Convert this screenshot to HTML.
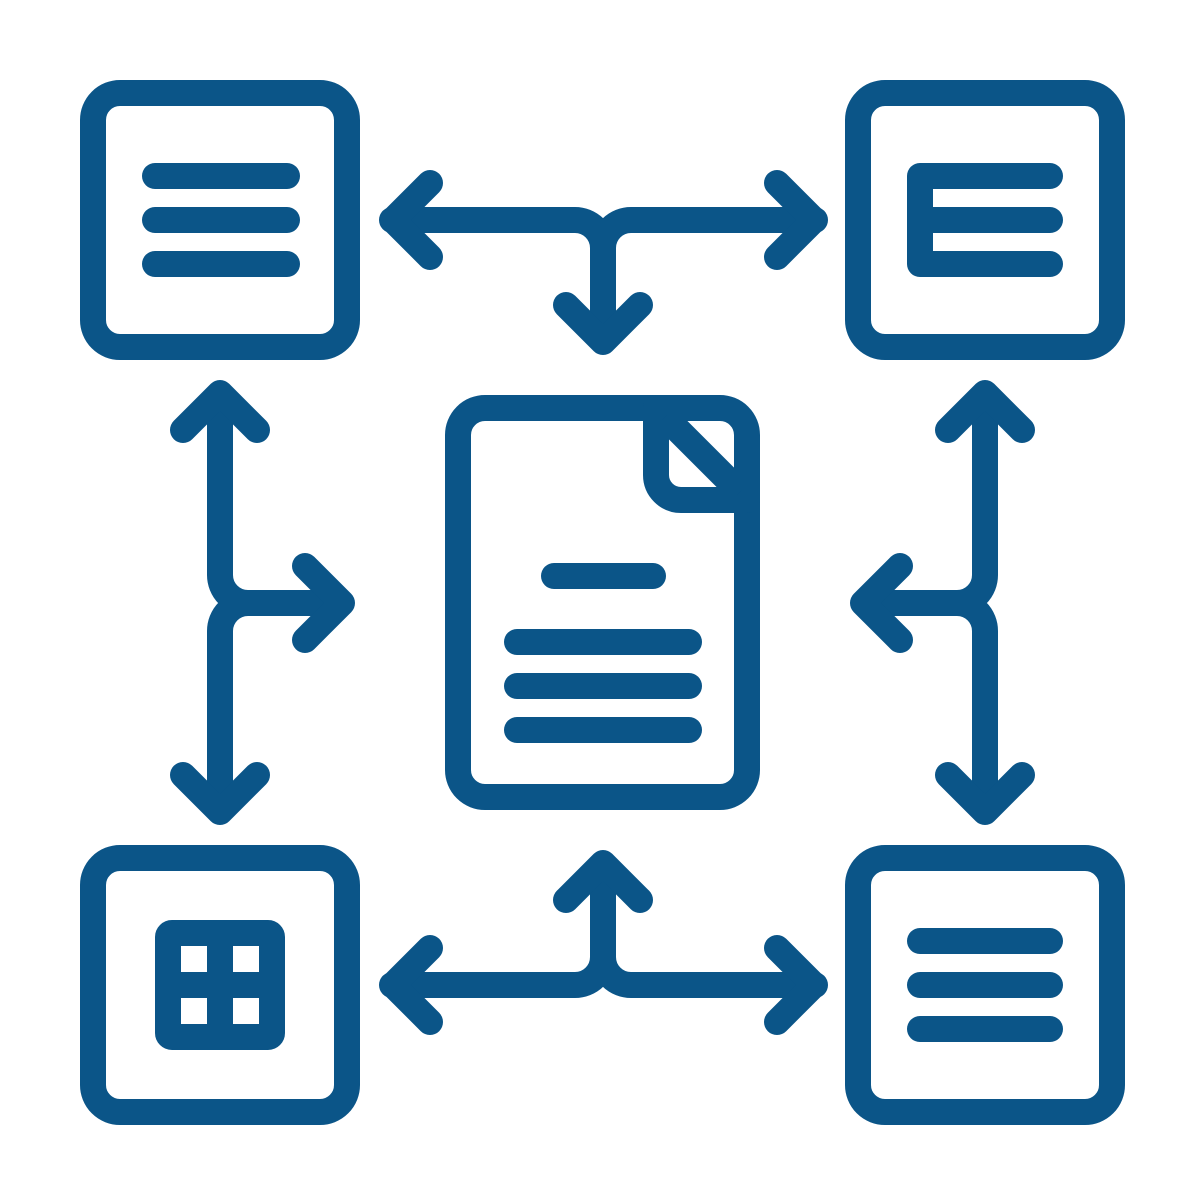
<!DOCTYPE html>
<html><head><style>html,body{margin:0;padding:0;background:#fff;width:1200px;height:1200px;overflow:hidden}</style></head>
<body>
<svg width="1200" height="1200" viewBox="0 0 1200 1200" xmlns="http://www.w3.org/2000/svg">
<g fill="none" stroke="#0b5588" stroke-width="26" stroke-linecap="round" stroke-linejoin="round">
<rect x="93" y="93" width="254" height="254" rx="27"/>
<rect x="858" y="93" width="254" height="254" rx="27"/>
<rect x="93" y="858" width="254" height="254" rx="27"/>
<rect x="858" y="858" width="254" height="254" rx="27"/>
<path d="M155 176H287M155 220H287M155 264H287"/>
<path d="M1050 176H920V264H1050M920 220H1050"/>
<path d="M920 941H1050M920 985H1050M920 1029H1050"/>
<rect x="168" y="933" width="104" height="104" rx="4"/>
<path d="M220 933V1037M168 985H272" stroke-linecap="butt"/>
<path d="M656 408H485A27 27 0 0 0 458 435V770A27 27 0 0 0 485 797H720A27 27 0 0 0 747 770V500"/>
<path d="M656 408H720A27 27 0 0 1 747 435V500H681A25 25 0 0 1 656 475V408"/>
<path d="M665 417L740 492" stroke-linecap="butt"/>
<path d="M554 576H653M517 642H689M517 686H689M517 730H689"/>
<path d="M392 220H575A28 28 0 0 1 603 248V340M815 220H631A28 28 0 0 0 603 248"/>
<path d="M430 183L393 220L430 257M777 183L814 220L777 257M566 305L603 342L640 305"/>
<path d="M392 985H575A28 28 0 0 0 603 957V865M815 985H631A28 28 0 0 1 603 957"/>
<path d="M430 948L393 985L430 1022M777 948L814 985L777 1022M566 900L603 863L640 900"/>
<path d="M220 395V575A28 28 0 0 0 248 603H340M220 810V631A28 28 0 0 1 248 603"/>
<path d="M183 430L220 393L257 430M183 775L220 812L257 775M305 566L342 603L305 640"/>
<path d="M985 395V575A28 28 0 0 1 957 603H865M985 810V631A28 28 0 0 0 957 603"/>
<path d="M948 430L985 393L1022 430M948 775L985 812L1022 775M900 566L863 603L900 640"/>
</g>
</svg>
</body></html>
